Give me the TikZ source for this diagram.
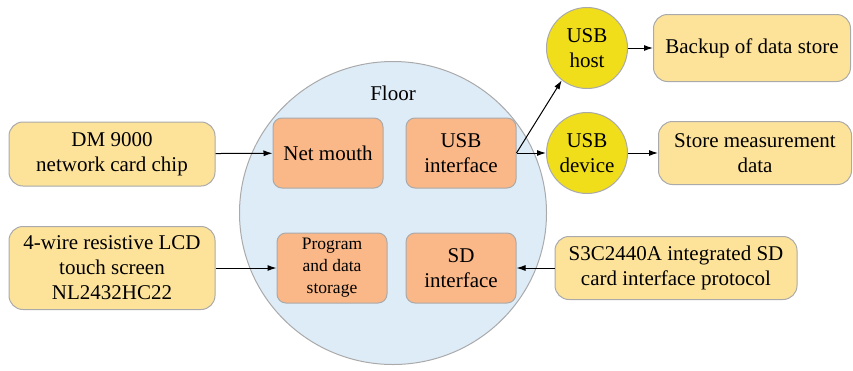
\documentclass[tikz,border=0pt]{standalone}
\usepackage{fontspec}
\newfontfamily\boardfont{Liberation Serif}
\usepackage{xcolor}
\usetikzlibrary{shapes.geometric, arrows.meta, positioning}

\definecolor{floorblue}{RGB}{222,236,248}
\definecolor{boxyellow}{RGB}{253,227,154}
\definecolor{boxorange}{RGB}{250,183,135}
\definecolor{usbyellow}{RGB}{240,222,26}
\definecolor{edgegray}{RGB}{170,170,170}

\begin{document}
\begin{tikzpicture}[
  x=1pt, y=-1pt,
    every node/.style={font=\boardfont\fontsize{21}{25}\selectfont},
    outer/.style={rectangle, rounded corners=14pt, minimum width=206pt, minimum height=64pt, inner sep=2pt, text centered, align=center, draw=edgegray, fill=boxyellow, line width=1pt},
    inner/.style={rectangle, rounded corners=9pt, minimum width=110pt, minimum height=70pt, inner sep=2pt, text centered, align=center, draw=edgegray, fill=boxorange, line width=1pt},
    usb/.style={circle, minimum size=81pt, inner sep=0pt, align=center, draw=edgegray, fill=usbyellow, line width=1pt},
    arrow/.style={-{Latex[length=9pt,width=6pt]}, line width=1pt}
]
\useasboundingbox (0,0) rectangle (853,370);

% Board
\node (floor) [ellipse, draw=edgegray, fill=floorblue, line width=1pt, minimum width=307pt, minimum height=303pt] at (393,213) {};
\node (floorlabel) at (393,93) {Floor};
\node (netmouth) [inner] at (328,153) {Net mouth};
\node (usbif) [inner] at (461,153) {USB\\interface};
\node (storage) [inner, font=\boardfont\fontsize{17.5}{22}\selectfont] at (332,268) {Program\\and data\\storage};
\node (sdif) [inner] at (461,268) {SD\\interface};

% Outside parts
\node (dm) [outer] at (112,154) {DM 9000\\network card chip};
\node (lcd) [outer, minimum height=83pt] at (112,268) {4-wire resistive LCD\\touch screen\\NL2432HC22};
\node (usbhost) [usb] at (587,48) {USB\\host};
\node (usbdev) [usb] at (587,153) {USB\\device};
\node (backup) [outer, minimum width=197pt, minimum height=67pt] at (752,48) {Backup of data store};
\node (measure) [outer, minimum width=193pt, minimum height=63pt] at (755,153) {Store measurement\\data};
\node (s3c) [outer, minimum width=242pt, minimum height=63pt] at (676,268) {S3C2440A integrated SD\\card interface protocol};

% Arrows
\draw [arrow] (dm) -- (netmouth);
\draw [arrow] (lcd) -- (storage);
\draw [arrow] (usbif.east) -- (usbdev);
\draw [arrow] (usbif.east) -- (usbhost.232);
\draw [arrow] (usbhost) -- (backup);
\draw [arrow] (usbdev) -- (measure);
\draw [arrow] (s3c) -- (sdif);

\end{tikzpicture}
\end{document}
